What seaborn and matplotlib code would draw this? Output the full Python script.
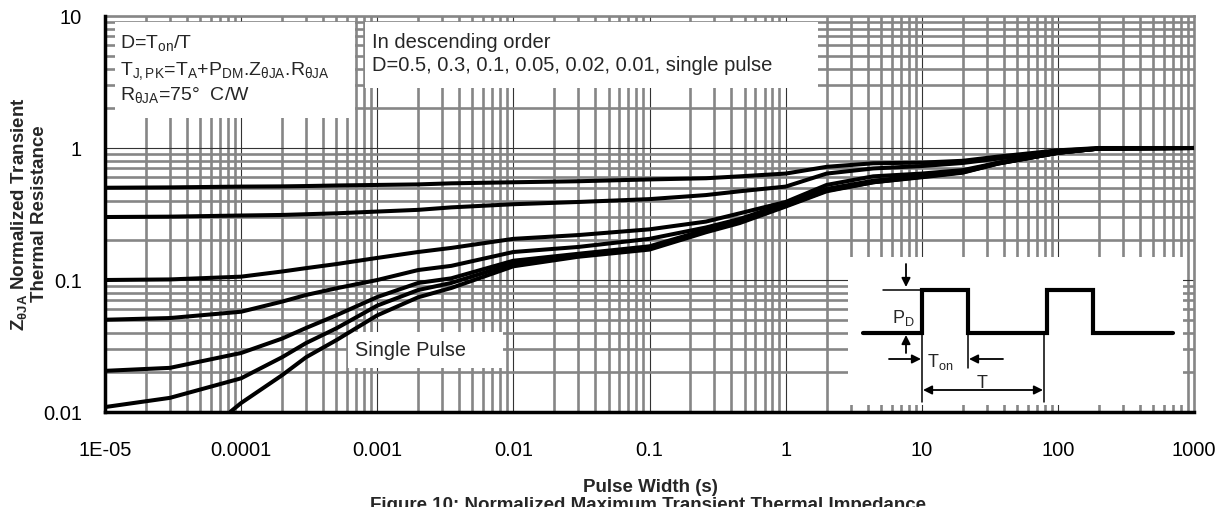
import numpy as np
import pandas as pd
import matplotlib
matplotlib.use("Agg")
import matplotlib.pyplot as plt
import seaborn as sns
from matplotlib.ticker import LogLocator, NullFormatter
from matplotlib.patches import Rectangle

# values (Zθ normalized vs pulse width)
pulse_width = [1e-5, 3e-5, 1e-4, 2e-4, 3e-4, 5e-4, 1e-3, 2e-3, 3.5e-3, 1e-2, 3e-2, 0.1,
               0.26, 0.46, 1, 2, 4.4, 10, 20, 36, 100, 200, 1000]
z_d05 = [0.50, 0.503, 0.51, 0.512, 0.515, 0.52, 0.525, 0.53, 0.54, 0.55, 0.56, 0.578,
         0.59, 0.61, 0.64, 0.72, 0.766, 0.775, 0.80, 0.86, 0.96, 1.0, 1.0]
z_d03 = [0.30, 0.302, 0.308, 0.311, 0.315, 0.32, 0.33, 0.34, 0.355, 0.375, 0.39, 0.41,
         0.44, 0.47, 0.51, 0.64, 0.70, 0.73, 0.77, 0.83, 0.95, 0.995, 1.0]
z_d01 = [0.100, 0.101, 0.106, 0.116, 0.123, 0.132, 0.147, 0.163, 0.175, 0.205, 0.219, 0.242,
         0.277, 0.32, 0.39, 0.525, 0.61, 0.64, 0.68, 0.77, 0.93, 0.99, 1.0]
z_d005 = [0.050, 0.0515, 0.0575, 0.0686, 0.077, 0.0865, 0.10, 0.119, 0.128, 0.163, 0.178, 0.205,
          0.25, 0.29, 0.38, 0.49, 0.565, 0.615, 0.665, 0.77, 0.92, 0.99, 1.0]
z_d002 = [0.0205, 0.0216, 0.028, 0.036, 0.0433, 0.054, 0.0743, 0.095, 0.103, 0.14, 0.158, 0.18,
          0.24, 0.28, 0.37, 0.48, 0.555, 0.61, 0.66, 0.765, 0.92, 0.99, 1.0]
z_d001 = [0.0109, 0.0128, 0.018, 0.026, 0.0333, 0.043, 0.064, 0.084, 0.095, 0.133, 0.155, 0.175,
          0.235, 0.275, 0.365, 0.475, 0.55, 0.605, 0.655, 0.76, 0.92, 0.99, 1.0]

single_width = [8.3e-5, 1e-4, 2e-4, 3e-4, 5e-4, 1e-3, 2e-3, 3.5e-3, 1e-2, 3e-2, 0.1,
                0.26, 0.46, 1, 2, 4.4, 10, 20, 36, 100, 200, 1000]
z_single = [0.01, 0.0117, 0.019, 0.026, 0.035, 0.054, 0.074, 0.087, 0.127, 0.15, 0.17,
            0.23, 0.27, 0.36, 0.47, 0.55, 0.60, 0.65, 0.76, 0.92, 0.99, 1.0]

x_ticks = [1e-5, 1e-4, 1e-3, 1e-2, 1e-1, 1, 10, 100, 1000]
x_tick_labels = ["1E-05", "0.0001", "0.001", "0.01", "0.1", "1", "10", "100", "1000"]
y_ticks = [0.01, 0.1, 1, 10]
y_tick_labels = ["0.01", "0.1", "1", "10"]

# pulse train sketch for the inset (inset units)
wave_t = [15, 74, 74, 120, 120, 199, 199, 245, 245, 325]
wave_level = [72, 72, 115, 115, 72, 72, 115, 115, 72, 72]

frames = []
for name, z in [("0.5", z_d05), ("0.3", z_d03), ("0.1", z_d01), ("0.05", z_d005),
                ("0.02", z_d002), ("0.01", z_d001)]:
    frames.append(pd.DataFrame({"width": pulse_width, "z": z, "duty": name}))
frames.append(pd.DataFrame({"width": single_width, "z": z_single, "duty": "single"}))
df = pd.concat(frames, ignore_index=True)

sns.set_style("white")
plt.rcParams["font.family"] = ["Liberation Sans", "DejaVu Sans"]
plt.rcParams["mathtext.fontset"] = "custom"
plt.rcParams["mathtext.rm"] = "Liberation Sans"
plt.rcParams["mathtext.it"] = "Liberation Sans:italic"
plt.rcParams["mathtext.bf"] = "Liberation Sans:bold"

W, H = 1229, 507
fig = plt.figure(figsize=(W / 100, H / 100), dpi=100)
ax = fig.add_axes([105 / W, 1 - 412 / H, 1089 / W, 396 / H])

sns.lineplot(data=df, x="width", y="z", hue="duty", units="duty", estimator=None,
             palette=["black"] * 7, linewidth=2.9, legend=False, ax=ax, sort=True)
for ln in ax.lines:
    ln.set_zorder(4)
    ln.set_clip_on(False)
    ln.set_solid_capstyle("butt")
    ln.set_solid_joinstyle("round")

ax.set_xscale("log")
ax.set_yscale("log")
ax.set_xlim(1e-5, 1000)
ax.set_ylim(0.01, 10)
ax.set_xticks(x_ticks, labels=x_tick_labels)
ax.set_yticks(y_ticks, labels=y_tick_labels)
ax.xaxis.set_minor_locator(LogLocator(base=10, subs=np.arange(2, 10), numticks=100))
ax.yaxis.set_minor_locator(LogLocator(base=10, subs=np.arange(2, 10), numticks=100))
ax.xaxis.set_minor_formatter(NullFormatter())
ax.yaxis.set_minor_formatter(NullFormatter())
ax.tick_params(which="both", length=0, labelsize=14.5, colors="black")
ax.tick_params(axis="y", pad=16.5)
ax.tick_params(axis="x", pad=21)
ax.set_xlabel("")
ax.set_ylabel("")

ax.set_axisbelow(True)
ax.grid(which="minor", color="#868686", linewidth=1.9)
ax.grid(which="major", color="#333333", linewidth=0.8)

for side in ["left", "bottom"]:
    ax.spines[side].set_color("black")
    ax.spines[side].set_linewidth(2.5)
    ax.spines[side].set_zorder(5)
for side in ["top", "right"]:
    ax.spines[side].set_color("#868686")
    ax.spines[side].set_linewidth(1.9)

# white note boxes over the grid
for x0, y0, x1, y1 in [(0.0092, 0.742, 0.2296, 0.985),
                       (0.2388, 0.818, 0.6547, 0.985),
                       (0.2231, 0.111, 0.3655, 0.202)]:
    ax.add_patch(Rectangle((x0, y0), x1 - x0, y1 - y0, transform=ax.transAxes,
                           facecolor="white", edgecolor="none", zorder=2))

fs = 14
ax.text(0.0138, 0.919, r"D=T$\mathregular{_{on}}$/T", transform=ax.transAxes,
        fontsize=fs, va="baseline", zorder=6)
ax.text(0.0138, 0.851,
        r"T$\mathregular{_{J,PK}}$=T$\mathregular{_{A}}$+P$\mathregular{_{DM}}$.Z$\mathregular{_{θJA}}$.R$\mathregular{_{θJA}}$",
        transform=ax.transAxes, fontsize=fs, va="baseline", zorder=6)
ax.text(0.0138, 0.788, r"R$\mathregular{_{θJA}}$=75°  C/W", transform=ax.transAxes,
        fontsize=fs, va="baseline", zorder=6)
ax.text(0.245, 0.919, "In descending order", transform=ax.transAxes,
        fontsize=14.5, va="baseline", zorder=6)
ax.text(0.245, 0.861, "D=0.5, 0.3, 0.1, 0.05, 0.02, 0.01, single pulse",
        transform=ax.transAxes, fontsize=14.5, va="baseline", zorder=6)
ax.text(0.2296, 0.141, "Single Pulse", transform=ax.transAxes,
        fontsize=14.3, va="baseline", zorder=6)

fig.text(28.5 / W, 1 - 214 / H,
         "Z$\\mathregular{_{θJA}}$ Normalized Transient\nThermal Resistance",
         rotation=90, ha="center", va="center", multialignment="center",
         fontsize=13.5, fontweight="bold", linespacing=1.15)
fig.text(650 / W, 1 - 487 / H, "Pulse Width (s)", ha="center", va="center",
         fontsize=13.5, fontweight="bold")
fig.text(648 / W, 1 - 497 / H, "Figure 10: Normalized Maximum Transient Thermal Impedance",
         ha="center", va="top", fontsize=13.5, fontweight="bold")

# inset: duty cycle definition
ax_in = fig.add_axes([848 / W, 1 - 405 / H, 335 / W, 148 / H])
ax_in.set_facecolor("white")
ax_in.set_xlim(0, 335)
ax_in.set_ylim(0, 148)
ax_in.set_xticks([])
ax_in.set_yticks([])
for s in ax_in.spines.values():
    s.set_visible(False)

ax_in.plot(wave_t, wave_level, color="black", linewidth=3.0, solid_joinstyle="miter")
ax_in.plot([35, 72], [115, 115], color="black", linewidth=1.1)
ax_in.plot([74, 74], [72, 3], color="black", linewidth=1.1)
ax_in.plot([120, 120], [72, 37], color="black", linewidth=1.1)
ax_in.plot([196, 196], [72, 3], color="black", linewidth=1.1)
arr = dict(arrowstyle="-|>", color="black", lw=1.3, mutation_scale=13, shrinkA=0, shrinkB=0)
ax_in.annotate("", xy=(58, 118), xytext=(58, 141), arrowprops=arr)
ax_in.annotate("", xy=(58, 70), xytext=(58, 52), arrowprops=arr)
ax_in.annotate("", xy=(73, 46), xytext=(41, 46), arrowprops=arr)
ax_in.annotate("", xy=(121, 46), xytext=(155, 46), arrowprops=arr)
ax_in.annotate("", xy=(195, 15), xytext=(75, 15),
               arrowprops=dict(arrowstyle="<|-|>", color="black", lw=1.3,
                               mutation_scale=13, shrinkA=0, shrinkB=0))
ax_in.text(55, 87, r"P$\mathregular{_{D}}$", fontsize=13, ha="center", va="center")
ax_in.text(92, 43, r"T$\mathregular{_{on}}$", fontsize=13, ha="center", va="center")
ax_in.text(134, 22, "T", fontsize=13, ha="center", va="center")

fig.savefig("out.png", dpi=100)
